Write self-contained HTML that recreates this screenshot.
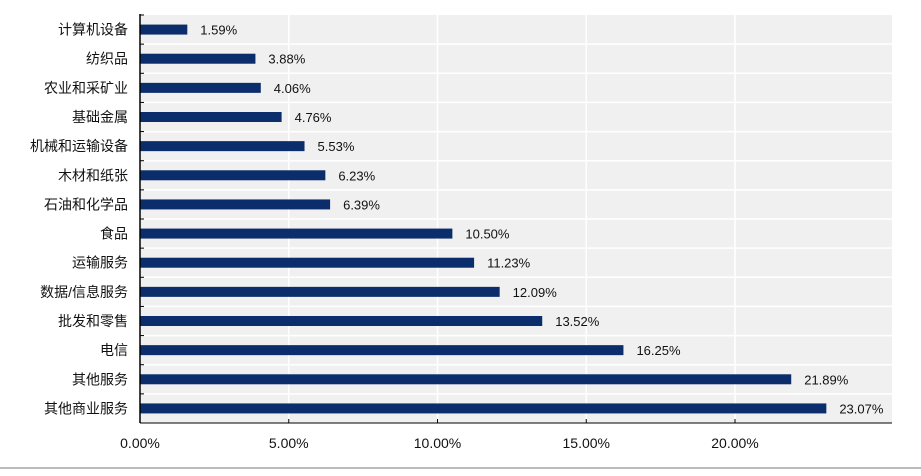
<!DOCTYPE html>
<html><head><meta charset="utf-8"><style>
body{margin:0;background:#fff;width:921px;height:471px;overflow:hidden}
svg text{font-family:"Liberation Sans","Noto Sans CJK SC",sans-serif}
</style></head><body>
<svg id="c" width="921" height="471"></svg>
<script>
const categories=["计算机设备","纺织品","农业和采矿业","基础金属","机械和运输设备","木材和纸张","石油和化学品","食品","运输服务","数据/信息服务","批发和零售","电信","其他服务","其他商业服务"];
const values=[1.59,3.88,4.06,4.76,5.53,6.23,6.39,10.50,11.23,12.09,13.52,16.25,21.89,23.07];
const ticks=[0,5,10,15,20];
const NS="http://www.w3.org/2000/svg";
const svg=document.getElementById('c');
const x0=140,x1=892,y0=15,y1=423,scale=29.75;
const X=v=>x0+v*scale;
const band=(y1-y0)/categories.length;
const Y=i=>y0+band*i;
function mk(t,a){const e=document.createElementNS(NS,t);for(const k in a)e.setAttribute(k,a[k]);svg.appendChild(e);return e;}
let bg=mk('rect',{x:x0,y:y0,width:x1-x0,height:y1-y0,fill:'#f0f0f0'});


ticks.forEach(t=>{let g=mk('line',{x1:X(t),x2:X(t),y1:y0,y2:y1,stroke:'#fff','stroke-width':1.5});

});
for(let i=1;i<categories.length;i++){let g=mk('line',{x1:x0,x2:x1,y1:Y(i),y2:Y(i),stroke:'#fff','stroke-width':1.5});

}
categories.forEach((c,i)=>{
const cy=Y(i)+band/2;
let b=mk('rect',{x:x0,y:cy-5,width:X(values[i])-x0,height:10,fill:'#0b2d6b'});


let l=mk('text',{x:X(values[i])+13,y:cy+5,'font-size':13,fill:'#111'});l.textContent=values[i].toFixed(2)+'%';


let t=mk('text',{x:128,y:cy+5,'font-size':14,'text-anchor':'end',fill:'#111'});t.textContent=c;


let tk=mk('line',{x1:x0,x2:x0+4,y1:Y(i),y2:Y(i),stroke:'#000'});


});
let ya=mk('line',{x1:x0,x2:x0,y1:y0-1,y2:y1,stroke:'#000','stroke-width':1.5});


let xa=mk('line',{x1:x0,x2:x1,y1:y1,y2:y1,stroke:'#000','stroke-width':1});


ticks.forEach(t=>{let k=mk('line',{x1:X(t),x2:X(t),y1:y1-4,y2:y1,stroke:'#000'});


let l=mk('text',{x:X(t),y:448,'font-size':14,'text-anchor':'middle',fill:'#111'});l.textContent=t.toFixed(2)+'%';

});
let sep=mk('line',{x1:0,x2:921,y1:468,y2:468,stroke:'#bbb','stroke-width':2});


</script>
</body></html>
